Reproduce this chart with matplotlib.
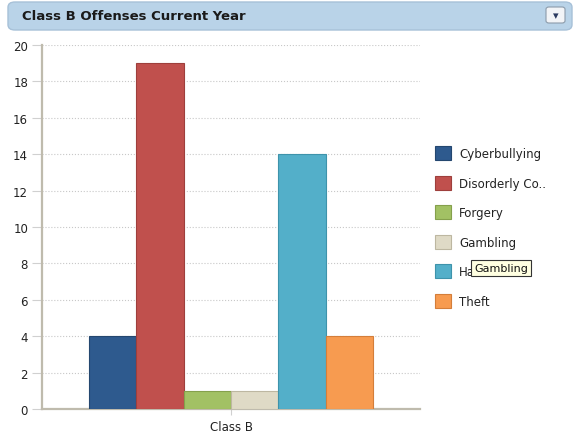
import matplotlib.pyplot as plt
from matplotlib.patches import FancyBboxPatch
import numpy as np

categories = ['Class B']
offenses = ['Cyberbullying', 'Disorderly Co..', 'Forgery', 'Gambling', 'Harassment', 'Theft']
counts = [4, 19, 1, 1, 14, 4]
colors = ['#2E5A8E', '#C0504D', '#A2C164', '#DFDAC6', '#53AFC9', '#F79B50']
edges = ['#24476F', '#9E3F3C', '#85A04C', '#BDB7A1', '#3E93AB', '#D47E3A']

fig = plt.figure(figsize=(5.8, 4.35), dpi=100)
fig.patch.set_facecolor('white')

# header bar
hdr = FancyBboxPatch((8 / 580, 1 - 31 / 435), 564 / 580, 28 / 435,
                     boxstyle='round,pad=0,rounding_size=0.012',
                     transform=fig.transFigure, facecolor='#B9D3E8',
                     edgecolor='#A7C1D8', lw=1)
fig.patches.append(hdr)
fig.text(22 / 580, 1 - 16 / 435, 'Class B Offenses Current Year',
         fontsize=9.5, fontweight='bold', color='#1A1A1A', va='center', ha='left')
btn = FancyBboxPatch((546 / 580, 1 - 24 / 435), 19 / 580, 16 / 435,
                     boxstyle='round,pad=0,rounding_size=0.005',
                     transform=fig.transFigure, facecolor='#F2F4F7',
                     edgecolor='#8C9BAA', lw=0.8)
fig.patches.append(btn)
fig.text(555.5 / 580, 1 - 16.5 / 435, '▾', fontsize=8, color='#2B3A60',
         ha='center', va='center')

ax = fig.add_axes([42 / 580, 1 - 410 / 435, 378 / 580, 364 / 435])
w = 0.1256
x0 = 0
for i, (name, v) in enumerate(zip(offenses, counts)):
    ax.bar(x0 + (i - 2.5) * w, v, width=w, color=colors[i],
           edgecolor=edges[i], lw=0.8, label=name, zorder=3)

ax.set_xlim(-0.5, 0.5)
ax.set_ylim(0, 20)
ax.set_yticks(np.arange(0, 21, 2))
ax.set_xticks([0])
ax.set_xticklabels(categories)
ax.grid(axis='y', linestyle=':', color='#C8C8C8', lw=0.8, zorder=0)
for s in ['top', 'right']:
    ax.spines[s].set_visible(False)
for s in ['left', 'bottom']:
    ax.spines[s].set_color('#BFBBAD')
    ax.spines[s].set_linewidth(1.6)
ax.tick_params(axis='y', length=7, color='#D0D0D0', labelsize=8.5,
               labelcolor='#222222', pad=3)
ax.tick_params(axis='x', length=4, color='#D0D0D0', labelsize=8.5,
               labelcolor='#222222', pad=4)

leg = fig.legend(loc='upper left', bbox_to_anchor=(435 / 580, 1 - 147 / 435),
                 frameon=False, fontsize=8.5, handlelength=1.35, handleheight=1.45,
                 labelspacing=1.32, handletextpad=0.7, borderpad=0, borderaxespad=0)
for t in leg.get_texts():
    t.set_color('#222222')

# tooltip
fig.text(501 / 580, 1 - 269 / 435, 'Gambling', fontsize=8, color='#111111',
         ha='center', va='center',
         bbox=dict(boxstyle='square,pad=0.3', facecolor='#FFFFE1',
                   edgecolor='#333333', lw=0.8), zorder=10)

plt.savefig('out.png', dpi=100)
